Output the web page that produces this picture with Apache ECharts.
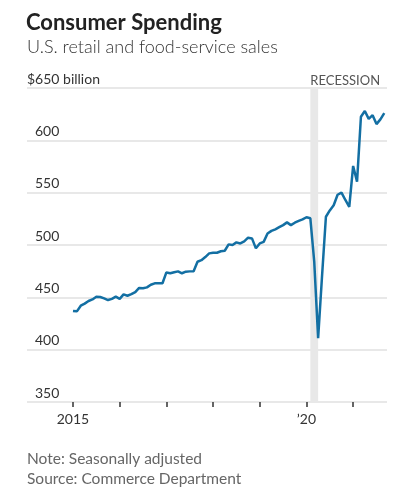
<!DOCTYPE html>
<html>
<head>
<meta charset="utf-8">
<script src="https://cdn.jsdelivr.net/npm/echarts@6/dist/echarts.min.js"></script>
<style>
  html, body { margin: 0; padding: 0; background: #fff; }
  #chart { width: 394px; height: 504px; }
</style>
</head>
<body>
<div id="chart"></div>
<script>
// Monthly retail and food-service sales, $ billion, seasonally adjusted (Jan 2015 onward)
const startYear = 2015;
const sales2015 = [437, 436.6, 442, 444, 446.5, 448, 450.5, 450.3, 449, 447.4, 448.5, 450.6];
const sales2016 = [448.5, 452.8, 451.5, 453, 455, 459, 458.6, 459.5, 462, 463.4, 463.4, 463.5];
const sales2017 = [473.8, 473, 474, 474.8, 473, 474.5, 474.8, 475, 484, 485.5, 488.5, 492];
const sales2018 = [492.6, 492.6, 494, 494.5, 500.6, 500, 502.5, 501.5, 503.5, 507, 506.3, 496.8];
const sales2019 = [501.5, 503, 511, 513.5, 515, 517, 519, 521.6, 519, 521.3, 523, 524.5];
const sales2020 = [526.5, 525.5, 484, 411, 470, 527, 533, 538, 548, 550, 543, 536.5];
const sales2021 = [575.5, 560.5, 622.5, 628, 620.5, 624, 615.5, 620, 626];

const yTicks = [350, 400, 450, 500, 550, 600, 650];
const xTickMonths = [0, 12, 24, 36, 48, 60, 72];
const xTickLabels = { 0: '2015', 60: '\u201920' };
const recessionStart = 61; // Feb 2020
const recessionEnd = 63;   // Apr 2020

const allSales = [].concat(sales2015, sales2016, sales2017, sales2018, sales2019, sales2020, sales2021);
const seriesData = allSales.map((v, i) => [i, v]);

const FONT = 'Lato, "Noto Sans", sans-serif';
const chart = echarts.init(document.getElementById('chart'), null, { renderer: 'canvas' });

chart.setOption({
  animation: false,
  backgroundColor: '#fff',
  title: [
    { text: 'Consumer Spending', left: 26, top: 12, padding: 0,
      textStyle: { fontFamily: FONT, fontSize: 22, fontWeight: 'bold', color: '#222', lineHeight: 22 } },
    { text: 'U.S. retail and food-service sales', left: 27, top: 38, padding: 0,
      textStyle: { fontFamily: FONT, fontSize: 18, fontWeight: 300, color: '#333', lineHeight: 18 } },
    { text: 'Note: Seasonally adjusted', left: 27, top: 451, padding: 0,
      textStyle: { fontFamily: FONT, fontSize: 15.5, fontWeight: 'normal', color: '#666', lineHeight: 15 } },
    { text: 'Source: Commerce Department', left: 27, top: 471, padding: 0,
      textStyle: { fontFamily: FONT, fontSize: 15.5, fontWeight: 'normal', color: '#666', lineHeight: 15 } }
  ],
  grid: { left: 27, right: 7, top: 88, bottom: 102, containLabel: false },
  xAxis: {
    type: 'value',
    min: -11.82,
    max: 80.7,
    axisLine: { show: false },
    splitLine: { show: false },
    axisTick: {
      show: true, customValues: xTickMonths, length: 5, inside: false,
      lineStyle: { color: '#333', width: 1.5 }
    },
    axisLabel: {
      customValues: [0, 60],
      formatter: v => xTickLabels[v] || '',
      margin: 10,
      fontFamily: FONT, fontSize: 14, color: '#333'
    }
  },
  yAxis: {
    type: 'value',
    min: 350,
    max: 650,
    interval: 50,
    axisLine: { show: false },
    axisTick: { show: false },
    splitLine: { show: true, lineStyle: { color: '#e0e0e0', width: 1.5 } },
    axisLabel: {
      inside: true,
      margin: 0,
      verticalAlign: 'bottom',
      align: 'left',
      padding: [0, 0, 2, 0],
      fontFamily: FONT, fontSize: 14, color: '#333',
      formatter: v => v === 650 ? '{u|$650 billion}' : '{d|' + v + '}',
      rich: {
        u: { fontFamily: FONT, fontSize: 14, color: '#333' },
        d: { fontFamily: FONT, fontSize: 14, color: '#333', padding: [0, 0, 0, 8] }
      }
    }
  },
  series: [{
    type: 'line',
    data: seriesData,
    showSymbol: false,
    smooth: false,
    lineStyle: { color: '#136fa3', width: 2.5 },
    z: 3,
    markArea: {
      silent: true,
      itemStyle: { color: '#e8e8e8' },
      label: {
        show: true,
        position: [0, -1],
        verticalAlign: 'bottom',
        align: 'left',
        fontFamily: FONT, fontSize: 13, color: '#555'
      },
      data: [[
        { name: 'RECESSION', xAxis: recessionStart },
        { xAxis: recessionEnd }
      ]]
    }
  }]
});
</script>
</body>
</html>
